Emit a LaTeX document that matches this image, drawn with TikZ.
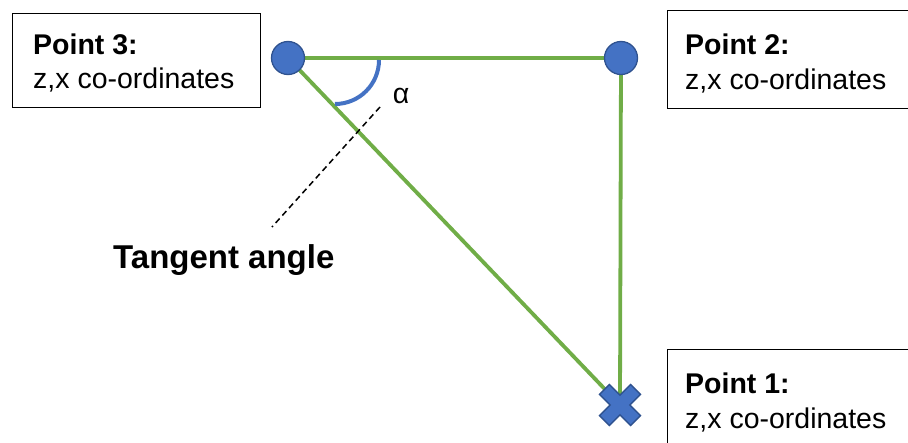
\documentclass[tikz,border=0pt]{standalone}
\usepackage{fontspec}
\setmainfont{Liberation Sans}
\definecolor{lgreen}{HTML}{70AD47}
\definecolor{pblue}{HTML}{4472C4}
\definecolor{pdark}{HTML}{2F528F}
\tikzset{
  greenline/.style={draw=lgreen, line width=3.8pt},
  pointdot/.style={circle, fill=pblue, draw=pdark, line width=1.3pt, minimum size=33pt, inner sep=0pt},
  infobox/.style={draw=black, line width=1.3pt, fill=white, rectangle, anchor=north west, inner sep=0pt},
  boxtitle/.style={anchor=base west, inner sep=0pt, font=\fontsize{28.5}{30}\selectfont\bfseries},
  boxtext/.style={anchor=base west, inner sep=0pt, font=\fontsize{28.5}{30}\selectfont},
  anglearc/.style={draw=pblue, line width=4pt},
  tangentline/.style={draw=black, line width=1.5pt, dash pattern=on 6pt off 4pt}
}
\begin{document}
\begin{tikzpicture}[x=1pt,y=-1pt]
\useasboundingbox (0,0) rectangle (908,442);
% positions
\coordinate (c3pos) at (288,58);
\coordinate (c2pos) at (621,58);
\coordinate (p1) at (620,405);
\coordinate (dA) at (380,107);
\coordinate (dB) at (272,227);
% connectors
\draw[greenline] (c3pos) -- (c2pos);
\draw[greenline] (c2pos) -- (p1);
\draw[greenline] (c3pos) -- (p1);
% tangent dashed line
\draw[tangentline] (dA) -- (dB);
% angle arc
\coordinate (arcc) at (335,60);
\draw[anglearc] ([xshift=44pt]arcc) arc[start angle=0, end angle=-90, radius=44pt];
\node[inner sep=0pt, font=\fontsize{28.5}{30}\selectfont] (alpha) at (401,96) {α};
% points
\node[pointdot] (c3) at (c3pos) {};
\node[pointdot] (c2) at (c2pos) {};
\begin{scope}[shift={(p1)}, rotate=45]
  \filldraw[fill=pblue, draw=pdark, line width=1.3pt]
    (22,7) -- (7,7) -- (7,22) -- (-7,22) -- (-7,7) -- (-22,7) -- (-22,-7)
    -- (-7,-7) -- (-7,-22) -- (7,-22) -- (7,-7) -- (22,-7) -- cycle;
\end{scope}
% boxes
\node[infobox, minimum width=248pt, minimum height=94pt] (b3) at (12,13) {};
\node[boxtitle] (b3t) at (33,54) {Point 3:};
\node[boxtext] (b3s) at (33,88) {z,x co-ordinates};
\node[infobox, minimum width=250pt, minimum height=98pt] (b2) at (667,10) {};
\node[boxtitle] (b2t) at (685,54) {Point 2:};
\node[boxtext] (b2s) at (685,89) {z,x co-ordinates};
\node[infobox, minimum width=250pt, minimum height=100pt] (b1) at (667,349) {};
\node[boxtitle] (b1t) at (685,393) {Point 1:};
\node[boxtext] (b1s) at (685,428) {z,x co-ordinates};
% label
\node[anchor=base west, inner sep=0pt, font=\fontsize{33}{35}\selectfont\bfseries] (tang) at (113,268) {Tangent angle};
\end{tikzpicture}
\end{document}
